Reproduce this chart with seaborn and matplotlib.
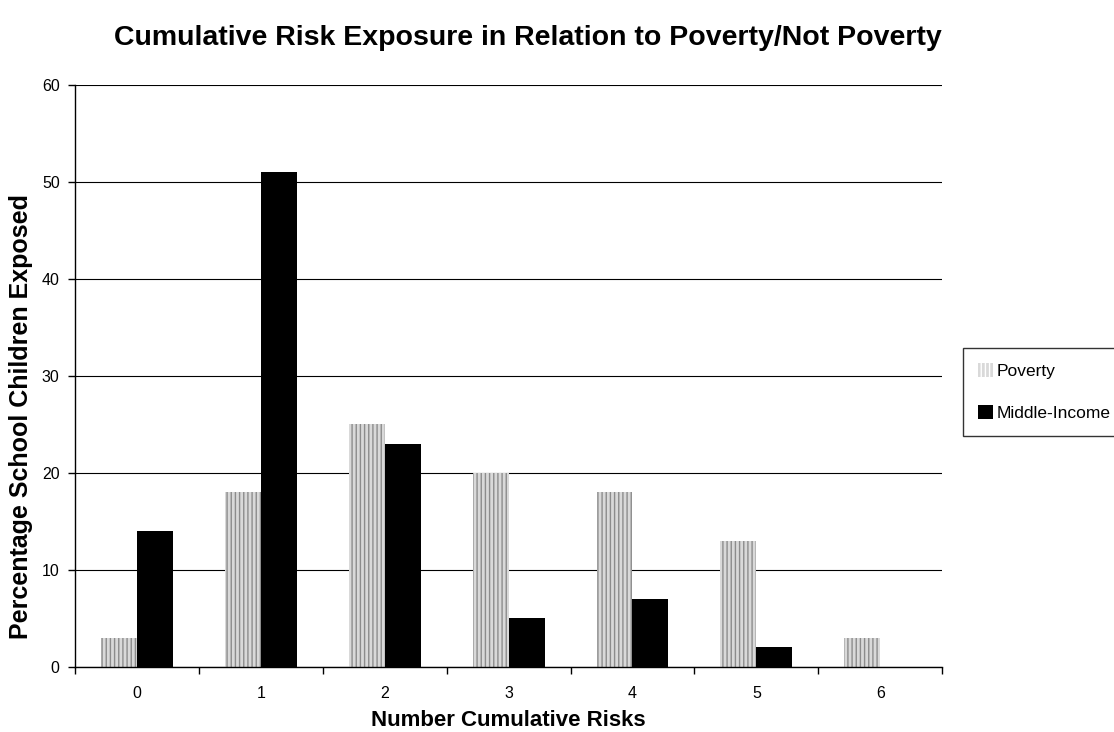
import matplotlib
matplotlib.use("Agg")
import matplotlib.pyplot as plt
import seaborn as sns
import pandas as pd
import numpy as np

risks = ["0", "1", "2", "3", "4", "5", "6"]
poverty = [3, 18, 25, 20, 18, 13, 3]
middle_income = [14, 51, 23, 5, 7, 2, 0]
groups = ["Poverty", "Middle-Income"]

sns.set_theme(style="white")
plt.rcParams["font.family"] = ["Liberation Sans", "DejaVu Sans"]
plt.rcParams["text.color"] = "black"
plt.rcParams["axes.labelcolor"] = "black"
plt.rcParams["xtick.color"] = "black"
plt.rcParams["ytick.color"] = "black"
plt.rcParams["hatch.color"] = "#8c8c8c"
plt.rcParams["hatch.linewidth"] = 1.0

df = pd.DataFrame({
    "risk": risks * 2,
    "value": poverty + middle_income,
    "group": [groups[0]] * len(risks) + [groups[1]] * len(risks),
})

fig = plt.figure(figsize=(11.14, 7.32), dpi=100)
ax = fig.add_axes([0.0673, 0.089, 0.7785, 0.795])

sns.barplot(data=df, x="risk", y="value", hue="group", order=risks,
            hue_order=groups, palette=["#d9d9d9", "#000000"], width=0.58,
            saturation=1, linewidth=0, ax=ax, legend=True)

# stippled fill for the poverty bars
for cont, name in zip(ax.containers, groups):
    for bar in cont:
        if name == "Poverty":
            bar.set_hatch("||||")
            bar.set_edgecolor("#8c8c8c")
            bar.set_linewidth(0)

ax.set_ylim(0, 60)
ax.set_xlim(-0.5, len(risks) - 0.5)
ax.set_yticks(np.arange(0, 61, 10))
ax.yaxis.grid(True, color="black", linewidth=0.8)
ax.set_axisbelow(True)

for side in ["top", "right"]:
    ax.spines[side].set_visible(False)
for side in ["left", "bottom"]:
    ax.spines[side].set_color("black")
    ax.spines[side].set_linewidth(1.0)

ax.set_xticks(np.arange(-0.5, len(risks), 1.0), minor=True)
ax.tick_params(axis="x", which="major", length=0, labelsize=11.5, pad=14)
ax.tick_params(axis="x", which="minor", length=5, width=1, color="black",
               direction="out", bottom=True)
ax.tick_params(axis="y", which="major", length=5, width=1, color="black",
               direction="out", left=True, labelsize=11.5, pad=6)

ax.set_xlabel("Number Cumulative Risks", fontsize=16, fontweight="bold")
ax.xaxis.set_label_coords(0.5, -0.074)
ax.set_ylabel("Percentage School Children Exposed", fontsize=18, fontweight="bold")
ax.yaxis.set_label_coords(-0.048, 0.43)
fig.suptitle("Cumulative Risk Exposure in Relation to Poverty/Not Poverty",
             fontsize=20.5, fontweight="bold", x=0.474, y=0.966)

leg = ax.legend(loc="center left", bbox_to_anchor=(1.024, 0.472), frameon=True,
                fontsize=12.5, handlelength=0.85, handleheight=0.85,
                handletextpad=0.25, labelspacing=1.5, borderpad=0.85,
                borderaxespad=0, fancybox=False, edgecolor="black")
leg.get_frame().set_linewidth(1.0)
for h in leg.legend_handles:
    h.set_linewidth(0)
leg.legend_handles[0].set_hatch("||||")

fig.savefig("out.png", dpi=100)
